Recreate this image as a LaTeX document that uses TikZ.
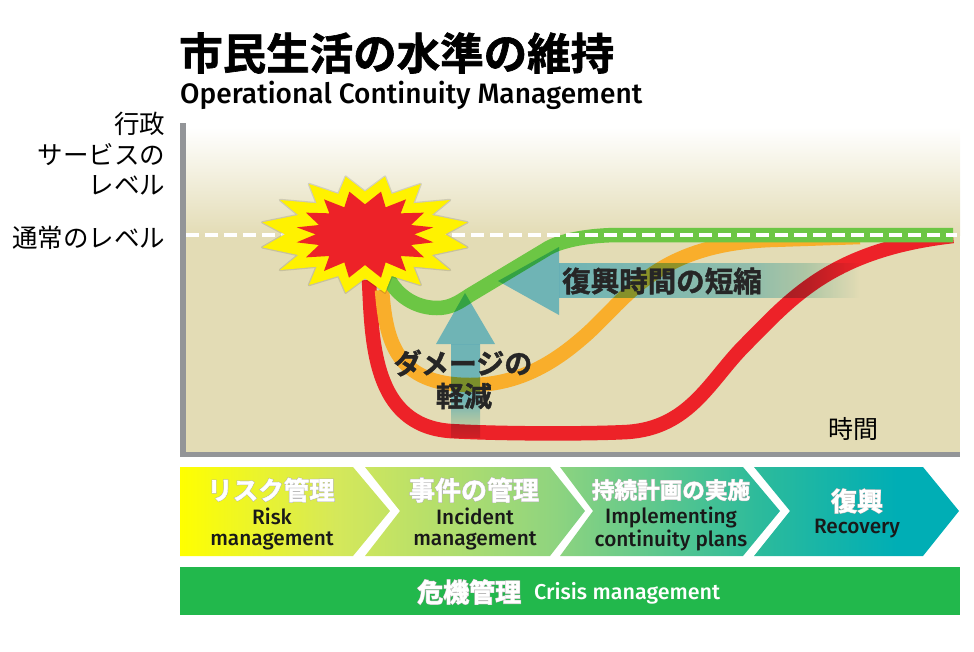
\documentclass[tikz,border=0pt]{standalone}
\usepackage{fontspec}
\usetikzlibrary{calc}
\newfontfamily\jpr{Noto Sans CJK JP}
\newfontfamily\jpx[UprightFont={* Bold},FakeBold=1.5]{Noto Sans CJK JP}
\newfontfamily\jph[UprightFont={* Bold},FakeBold=5]{Noto Sans CJK JP}
\newfontfamily\lat[UprightFont={* Medium}]{Fira Sans}
\newcommand{\fsz}[1]{\fontsize{#1}{#1}\selectfont}
\newcommand{\glowt}[2]{\fsz{#1}{\rlap{\color{black!30}\jph #2}\color{white}\jpx #2}}
\definecolor{tanbg}{HTML}{E3DCB5}
\definecolor{axisgray}{HTML}{939598}
\definecolor{curvered}{HTML}{ED2228}
\definecolor{curveorange}{HTML}{F9AE2B}
\definecolor{curvegreen}{HTML}{6CC644}
\definecolor{barGreen}{HTML}{22B84C}
\definecolor{tealmul}{HTML}{7DD1FF}
\definecolor{tealmid}{HTML}{A5DCF0}
\definecolor{tealfade}{HTML}{C4E6E8}
\definecolor{tealpale}{HTML}{E0F0F0}
\definecolor{chevA}{HTML}{FFFF00}
\definecolor{chevB}{HTML}{D5E85A}
\definecolor{chevC}{HTML}{8FD47F}
\definecolor{chevD}{HTML}{2DBB9B}
\definecolor{chevE}{HTML}{00AEB5}
\pgfdeclarehorizontalshading{chevband}{100bp}{
 color(0bp)=(chevA);
 color(25bp)=(chevA);
 color(35bp)=(chevB);
 color(49bp)=(chevC);
 color(62bp)=(chevD);
 color(71bp)=(chevE);
 color(100bp)=(chevE)}
\pgfdeclarehorizontalshading{fadeband}{100bp}{
 color(0bp)=(tealmul);
 color(25bp)=(tealmul);
 color(58bp)=(tealmid);
 color(66bp)=(tealfade);
 color(75bp)=(white);
 color(100bp)=(white)}
\pgfdeclareverticalshading{fadeshaft}{100bp}{
 color(0bp)=(tealpale);
 color(25bp)=(tealpale);
 color(34bp)=(tealfade);
 color(45bp)=(tealmul);
 color(100bp)=(tealmul)}
\tikzset{
 curveline/.style={line width=14.5pt,line cap=butt,line join=round},
 titlelabel/.style={inner sep=0pt,anchor=west},
 sidelabel/.style={inner sep=0pt,anchor=east,font=\jpr\fsz{25.5}},
 latlabel/.style={inner sep=0pt,font=\lat\fsz{20.8},text=black!90,align=center},
 darklabel/.style={inner sep=0pt,font=\jpx\fsz{28},text=black!85},
 whitelabel/.style={inner sep=0pt},
 tealarrow/.style={fill=tealmul,draw=none,blend mode=multiply},
 burstspace/.style={shift={(255,170)},x=0.33333pt,y=-0.33333pt},
}
\begin{document}
\begin{tikzpicture}[x=1pt,y=-1pt]
\useasboundingbox (0,0) rectangle (974,651);
% plot background
\shade[top color=white,bottom color=tanbg] (186,127) rectangle (960,235);
\fill[tanbg] (186,235) rectangle (960,453);
% axes
\fill[axisgray] (180,123) rectangle (186,457);
\fill[axisgray] (180,452) rectangle (960,457);
% curves
\draw[curveline,curvered] (369,280) .. controls (372,340) and (372,425) .. (450,431)
  .. controls (500,434) and (590,434) .. (627,432)
  .. controls (690,428) and (710,380) .. (745,345)
  .. controls (790,300) and (830,250) .. (953,236);
\draw[curveline,curveorange] (382,290) .. controls (386,340) and (395,385) .. (470,385)
  .. controls (510,385) and (545,370) .. (580,340)
  .. controls (625,303) and (650,245) .. (770,240) -- (860,237);
\draw[curveline,curvegreen] (388,278) .. controls (400,300) and (420,308) .. (437,308)
  .. controls (450,308) and (458,303) .. (470,295) -- (545,250)
  .. controls (560,240) and (590,235) .. (620,235) -- (953,235);
% dashed normal level
\draw[white,line width=4.5pt,dash pattern=on 13pt off 6pt] (186,235) -- (957,235);
% teal arrows
\fill[tealarrow] (465,293) -- (495,344) -- (436,344) -- cycle;
\shade[shading=fadeshaft,blend mode=multiply] (451,344) rectangle (480,437);
\fill[tealarrow] (498,281) -- (559,247) -- (559,315) -- cycle;
\shade[shading=fadeband,blend mode=multiply] (559,263) rectangle (860,297);
% burst
\begin{scope}[burstspace]
\def\burstY{(330,65) -- (390,20) -- (410,72) -- (497,42) -- (475,100) -- (585,90) -- (530,135) -- (637,157) -- (570,193) -- (637,232) -- (530,255) -- (585,300) -- (475,290) -- (497,345) -- (410,318) -- (390,368) -- (330,325) -- (272,368) -- (250,318) -- (162,345) -- (185,290) -- (75,300) -- (130,255) -- (22,232) -- (90,193) -- (22,157) -- (130,135) -- (75,90) -- (185,100) -- (162,42) -- (250,72) -- (272,20) -- cycle}
\draw[black,opacity=.12,line width=2.5pt,line join=round] \burstY;
\fill[yellow] \burstY;
\fill[curvered] (283,65) -- (330,103) -- (378,65) -- (392,112) -- (453,88) -- (437,130) -- (507,128) -- (468,165) -- (535,172) -- (478,193) -- (535,217) -- (468,225) -- (507,262) -- (437,258) -- (453,303) -- (392,277) -- (378,323) -- (330,285) -- (282,323) -- (268,277) -- (207,303) -- (223,258) -- (153,262) -- (192,225) -- (125,217) -- (182,193) -- (125,172) -- (192,165) -- (153,128) -- (223,130) -- (207,88) -- (268,112) -- cycle;
\end{scope}
% title
\node[titlelabel,font=\jpx\fsz{43.5}] (title) at (179,53) {市民生活の水準の維持};
\node[titlelabel,font=\lat\fsz{28.1}] (subtitle) at (180,95.5) {Operational Continuity Management};
% axis labels
\node[sidelabel] (yl1) at (165.5,124) {行政};
\node[sidelabel] (yl2) at (165.5,155) {サービスの};
\node[sidelabel] (yl3) at (165.5,185) {レベル};
\node[sidelabel] (normal) at (165.5,238) {通常のレベル};
\node[inner sep=0pt,font=\jpr\fsz{25}] (time) at (853,429) {時間};
% arrow labels
\node[darklabel,font=\jpx\fsz{28.5},anchor=west] (shorten) at (562,281) {復興時間の短縮};
\node[darklabel] (dmg1) at (463,363) {ダメージの};
\node[darklabel] (dmg2) at (464,396) {軽減};
% chevrons
\begin{scope}
\clip (180,467) -- (353,467) -- (390,511) -- (353,556) -- (180,556) -- cycle
 (365,467) -- (550,467) -- (585,511) -- (550,556) -- (365,556) -- (400,511) -- cycle
 (560,467) -- (743,467) -- (780,511) -- (743,556) -- (560,556) -- (593,511) -- cycle
 (754,467) -- (923,467) -- (959,511) -- (923,556) -- (754,556) -- (790,511) -- cycle;
\shade[shading=chevband] (180,467) rectangle (959,556);
\end{scope}
\node[whitelabel] (c1) at (271,490) {\glowt{25.5}{リスク管理}};
\node[latlabel] (c1a) at (272,529) {\baselineskip=19pt Risk\\management};
\node[whitelabel] (c2) at (474,490) {\glowt{26}{事件の管理}};
\node[latlabel] (c2a) at (475,529) {\baselineskip=19pt Incident\\management};
\node[whitelabel] (c3) at (671,490) {\glowt{22.6}{持続計画の実施}};
\node[latlabel] (c3a) at (671,529) {\baselineskip=19pt Implementing\\continuity plans};
\node[whitelabel] (c4) at (857,501) {\glowt{26}{復興}};
\node[latlabel] (c4a) at (857,529) {Recovery};
% crisis bar
\fill[barGreen] (180,567) rectangle (960,615);
\node[whitelabel,anchor=west] (crisisj) at (417,592) {\glowt{26}{危機管理}};
\node[latlabel,text=white,anchor=west,font=\lat\fsz{21.5}] (crisise) at (534,593.5) {Crisis management};
\end{tikzpicture}
\end{document}
